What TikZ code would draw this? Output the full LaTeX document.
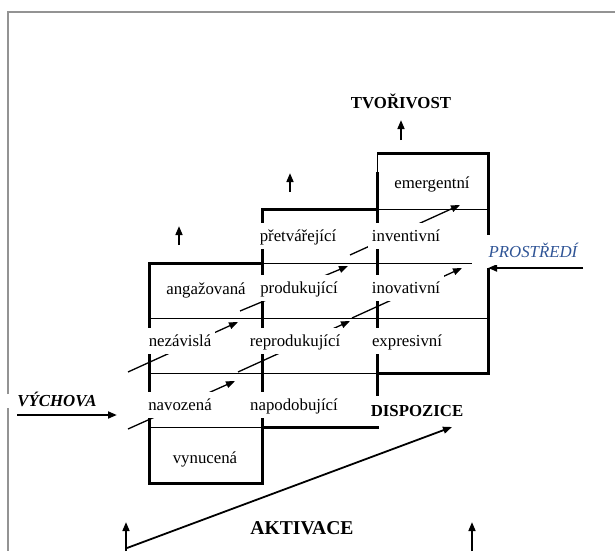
\documentclass[tikz,border=0pt]{standalone}
\usepackage{fontspec}
\setmainfont{Liberation Serif}
\usetikzlibrary{arrows.meta}
\definecolor{envblue}{RGB}{47,84,150}
\tikzset{
  thk/.style={line width=1.5pt},
  thn/.style={line width=0.5pt},
  lbl/.style={fill=white, inner sep=2pt, text height=1.6ex, text depth=.35ex},
  arr/.style={->, line width=0.65pt},
  uparr/.style={->, line width=1pt},
}
\begin{document}
\begin{tikzpicture}[x=0.5pt, y=-0.5pt, font=\fontsize{8.4}{10}\selectfont, >={Triangle[length=4.5pt,width=3.4pt]}]
    \def\xa{149} \def\xb{262} \def\xc{377} \def\xd{488}
    \useasboundingbox (0,0) rectangle (615,551);
    \draw[gray!85, line width=0.9pt] (8,394) -- (8,12) -- (615,12) (8,408) -- (8,551);
    \draw[thn] (\xc,172) -- (\xc,153) (\xc,209) -- (\xd,209) (\xb,263) -- (472,263)
      (\xa,318) -- (\xd,318) (\xa,373) -- (\xc,373) (\xa,427) -- (\xb,427);
    \draw[thk] (\xb,263) -- (\xa,263) -- (\xa,483) -- (\xb,483) -- (\xb,209) -- (\xc,209);
    \draw[thk] (\xb,427) -- (\xc,427) -- (\xc,172);
    \draw[thk] (\xc,153) -- (\xd,153) -- (\xd,235);
    \draw[thk] (\xd,268) -- (\xd,373) -- (\xc,373);
    \foreach \sx/\sy/\ex/\ey [count=\i] in {128/429/235/381, 238/372/350/321, 352/318/462/268,
      128/372/238/322, 240/311/348/266, 350/255/460/205}
      \draw[arr] (\sx,\sy) coordinate (s\i) -- (\ex,\ey) coordinate (e\i);
    \coordinate (tvup) at (401,140);
    \coordinate (prup) at (290,192);
    \coordinate (anup) at (179,245);
    \coordinate (akl) at (126,551);
    \coordinate (akr) at (472,551);
    \coordinate (akd) at (452,427);
    \coordinate (vyl) at (17,415);
    \coordinate (prr) at (583,268);
    \draw[uparr] (tvup) -- ++(0,-20);
    \draw[uparr] (prup) -- ++(0,-19);
    \draw[uparr] (anup) -- ++(0,-19);
    \draw[uparr] (akl) -- ++(0,-29);
    \draw[uparr] (akr) -- ++(0,-29);
    \draw[->, line width=0.9pt] ([shift={(1,-3)}]akl) -- (akd);
    \draw[->, line width=1.1pt] (vyl) -- ++(100,0);
    \draw[->, line width=1.1pt] (prr) -- (\xd,268);
    \node[lbl] (tvor) at (401,103) {\bfseries TVOŘIVOST};
    \node[lbl] (emer) at (432,183) {emergentní};
    \node[lbl] (pret) at (298,236) {přetvářející};
    \node[lbl] (inve) at (406,236) {inventivní};
    \node[lbl] (anga) at (206,289) {angažovaná};
    \node[lbl] (prod) at (299,288) {produkující};
    \node[lbl] (inov) at (406,288) {inovativní};
    \node[lbl] (neza) at (180,341) {nezávislá};
    \node[lbl] (repr) at (295,341) {reprodukující};
    \node[lbl] (expr) at (407,341) {expresivní};
    \node[lbl] (navo) at (180,405) {navozená};
    \node[lbl] (napo) at (294,405) {napodobující};
    \node[lbl, inner ysep=3pt] (disp) at (417,411) {\bfseries DISPOZICE};
    \node[lbl] (vynu) at (205,458) {vynucená};
    \node[lbl, font=\fontsize{9.8}{12}\selectfont\bfseries] (akti) at (302,529) {AKTIVACE};
    \node[lbl] (vych) at (57,401) {\bfseries\itshape VÝCHOVA};
    \node[lbl, text=envblue] (pros) at (533,252) {\itshape PROSTŘEDÍ};
\end{tikzpicture}
\end{document}
